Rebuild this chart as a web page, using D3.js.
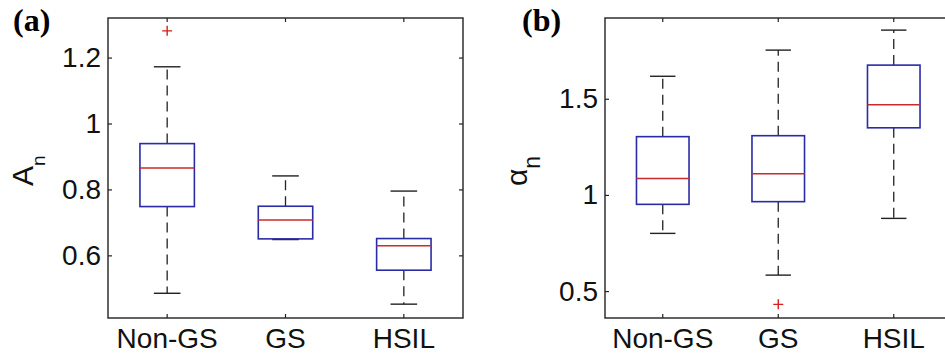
<!DOCTYPE html>
<html>
<head>
<meta charset="utf-8">
<script src="https://cdn.jsdelivr.net/npm/d3@7"></script>
<style>
  body { margin: 0; background: #fff; }
  svg { display: block; }
</style>
</head>
<body>
<div id="chart"></div>
<script>
// categories shared by both panels
const categories = ["Non-GS", "GS", "HSIL"];

// box stats per category: [lower whisker, Q1, median, Q3, upper whisker]
const statsA = [
    [0.485, 0.748, 0.865, 0.939, 1.172],
    [0.648, 0.650, 0.707, 0.749, 0.841],
    [0.452, 0.555, 0.629, 0.651, 0.795]
];
const outliersA = [[1.281], [], []];

const statsAlpha = [
    [0.800, 0.951, 1.085, 1.303, 1.617],
    [0.583, 0.965, 1.110, 1.308, 1.753],
    [0.878, 1.349, 1.469, 1.675, 1.857]
];
const outliersAlpha = [[], [0.431], []];

const ticksA = [0.6, 0.8, 1, 1.2];
const ticksAlpha = [0.5, 1, 1.5];

const W = 945, H = 354;

const svg = d3.select("#chart")
    .append("svg")
    .attr("width", W)
    .attr("height", H);

const fontSans = "'Liberation Sans', Arial, sans-serif";

function drawPanel(opt) {
    const g = svg.append("g");

    const x = d3.scaleBand()
        .domain(categories)
        .range([opt.left, opt.right])
        .paddingInner(0)
        .paddingOuter(0);
    const y = d3.scaleLinear()
        .domain(opt.domain)
        .range([opt.bottom, opt.top]);
    const bw = x.bandwidth();
    const cx = c => x(c) + bw / 2;

    // frame
    g.append("rect")
        .attr("x", opt.left)
        .attr("y", opt.top)
        .attr("width", opt.right - opt.left)
        .attr("height", opt.bottom - opt.top)
        .attr("fill", "none")
        .attr("stroke", "#222")
        .attr("stroke-width", 1.4);

    // axes with inward ticks (matlab style)
    const yAxis = g.append("g")
        .attr("transform", `translate(${opt.left},0)`)
        .call(d3.axisLeft(y).tickValues(opt.ticks).tickFormat(d3.format("~g")).tickSize(-4).tickPadding(7));
    const yAxisR = g.append("g")
        .attr("transform", `translate(${opt.right},0)`)
        .call(d3.axisRight(y).tickValues(opt.ticks).tickSize(-4).tickFormat(""));
    const xAxis = g.append("g")
        .attr("transform", `translate(0,${opt.bottom})`)
        .call(d3.axisBottom(x).tickSize(-4).tickPadding(10));
    const xAxisT = g.append("g")
        .attr("transform", `translate(0,${opt.top})`)
        .call(d3.axisTop(x).tickSize(-4).tickFormat(""));

    [yAxis, yAxisR, xAxis, xAxisT].forEach(a => {
        a.select(".domain").remove();
        a.selectAll(".tick line").attr("stroke", "#222").attr("stroke-width", 1.2);
        a.selectAll("text")
            .attr("font-family", fontSans)
            .attr("font-size", 28)
            .attr("fill", "#111");
    });

    const boxW = bw * opt.boxFrac;
    const capW = bw * opt.capFrac;

    const boxes = g.append("g")
        .selectAll("g")
        .data(categories.map((c, i) => ({ c: c, s: opt.stats[i], o: opt.outliers[i] })))
        .join("g");

    // dashed whiskers
    boxes.append("line")
        .attr("x1", d => cx(d.c)).attr("x2", d => cx(d.c))
        .attr("y1", d => y(d.s[3])).attr("y2", d => y(d.s[4]))
        .attr("stroke", "#222").attr("stroke-width", 1.3)
        .attr("stroke-dasharray", "10,6");
    boxes.append("line")
        .attr("x1", d => cx(d.c)).attr("x2", d => cx(d.c))
        .attr("y1", d => y(d.s[1])).attr("y2", d => y(d.s[0]))
        .attr("stroke", "#222").attr("stroke-width", 1.3)
        .attr("stroke-dasharray", "10,6");

    // whisker caps
    boxes.selectAll(".cap")
        .data(d => [d.s[0], d.s[4]].map(v => ({ c: d.c, v: v })))
        .join("line")
        .attr("class", "cap")
        .attr("x1", d => cx(d.c) - capW / 2).attr("x2", d => cx(d.c) + capW / 2)
        .attr("y1", d => y(d.v)).attr("y2", d => y(d.v))
        .attr("stroke", "#222").attr("stroke-width", 1.4);

    // box
    boxes.append("rect")
        .attr("x", d => cx(d.c) - boxW / 2)
        .attr("width", boxW)
        .attr("y", d => y(d.s[3]))
        .attr("height", d => y(d.s[1]) - y(d.s[3]))
        .attr("fill", "none")
        .attr("stroke", "#2b2ba8")
        .attr("stroke-width", 1.6);

    // median
    boxes.append("line")
        .attr("x1", d => cx(d.c) - boxW / 2).attr("x2", d => cx(d.c) + boxW / 2)
        .attr("y1", d => y(d.s[2])).attr("y2", d => y(d.s[2]))
        .attr("stroke", "#cc2a2a").attr("stroke-width", 1.5);

    // outliers as red plus signs
    boxes.selectAll(".out")
        .data(d => d.o.map(v => ({ c: d.c, v: v })))
        .join("path")
        .attr("class", "out")
        .attr("d", d => {
            const px = cx(d.c), py = y(d.v), r = 5;
            return `M${px - r},${py}H${px + r}M${px},${py - r}V${py + r}`;
        })
        .attr("stroke", "#d42020").attr("stroke-width", 1.4);

    // y label with subscript
    const yl = g.append("text")
        .attr("transform", `translate(${opt.ylabX},${opt.ylabY}) rotate(-90)`)
        .attr("font-family", fontSans)
        .attr("fill", "#111");
    yl.append("tspan")
        .attr("font-size", opt.symSize)
        .text(opt.symbol);
    yl.append("tspan")
        .attr("font-size", opt.subSize)
        .attr("dy", opt.subDy)
        .text("n");

    // panel letter
    g.append("text")
        .attr("x", opt.letterX)
        .attr("y", 31)
        .attr("font-family", "'Liberation Serif', 'Times New Roman', serif")
        .attr("font-weight", "bold")
        .attr("font-size", 32)
        .attr("fill", "#000")
        .text(opt.letter);
}

drawPanel({
    left: 108, right: 463, top: 18, bottom: 318,
    domain: [0.41, 1.32],
    ticks: ticksA,
    stats: statsA,
    outliers: outliersA,
    boxFrac: 0.46, capFrac: 0.225,
    symbol: "A", symSize: 30, subSize: 19, subDy: 12,
    ylabX: 33, ylabY: 186,
    letter: "(a)", letterX: 13
});

drawPanel({
    left: 605, right: 951.5, top: 18, bottom: 318,
    domain: [0.36, 1.92],
    ticks: ticksAlpha,
    stats: statsAlpha,
    outliers: outliersAlpha,
    boxFrac: 0.455, capFrac: 0.22,
    symbol: "α", symSize: 30, subSize: 23, subDy: 13,
    ylabX: 527, ylabY: 186,
    letter: "(b)", letterX: 522
});
</script>
</body>
</html>
